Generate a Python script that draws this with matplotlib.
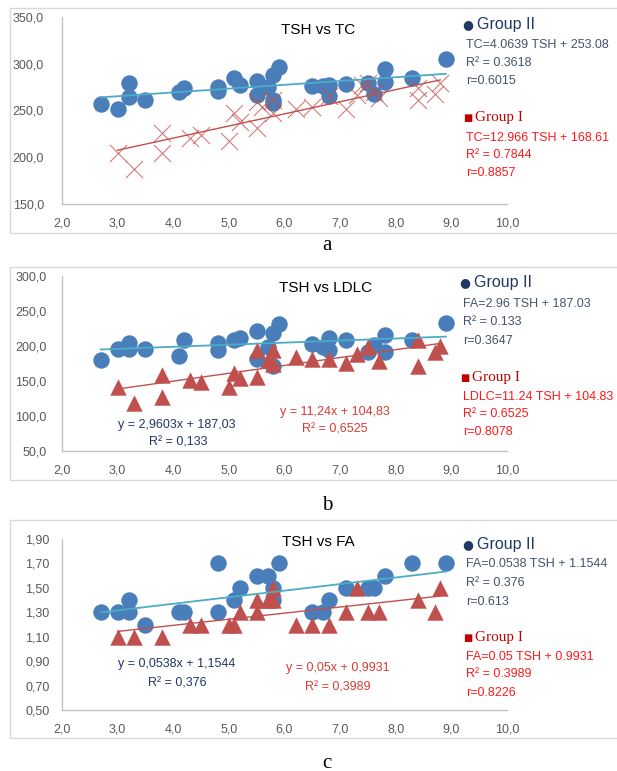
import matplotlib.pyplot as plt
from matplotlib.patches import Rectangle
import numpy as np

# panel a: TSH vs TC
tc_g2_x = [2.7, 3.0, 3.2, 3.2, 3.5, 4.1, 4.2, 4.8, 4.8, 5.1, 5.2, 5.5, 5.5, 5.7, 5.8, 5.8, 5.8, 5.9,
           6.5, 6.7, 6.8, 6.8, 7.1, 7.5, 7.6, 7.8, 7.8, 8.3, 8.9]
tc_g2_y = [257, 252, 279, 264, 261, 270, 274, 275, 271, 285, 277, 282, 267, 275, 258, 261, 288, 297,
           276, 276, 277, 265, 278, 279, 268, 294, 281, 285, 305]
tc_g1_x = [3.0, 3.3, 3.8, 3.8, 4.3, 4.5, 5.0, 5.1, 5.2, 5.5, 5.5, 5.6, 5.8, 5.8, 6.2, 6.5, 6.8,
           7.1, 7.3, 7.4, 7.5, 7.6, 7.7, 8.4, 8.4, 8.7, 8.8]
tc_g1_y = [205, 187, 226, 205, 221, 224, 217, 247, 238, 231, 259, 254, 261, 247, 252, 254, 265,
           252, 267, 277, 279, 270, 263, 274, 261, 268, 279]

# panel b: TSH vs LDLC
ldl_g2_x = [2.7, 3.0, 3.2, 3.2, 3.5, 4.1, 4.2, 4.8, 4.8, 5.1, 5.2, 5.5, 5.5, 5.7, 5.8, 5.8, 5.9,
            6.5, 6.7, 6.8, 6.8, 7.1, 7.5, 7.6, 7.8, 7.8, 8.3, 8.9]
ldl_g2_y = [180, 196, 205, 196, 196, 186, 209, 204, 194, 208, 211, 222, 181, 198, 219, 171, 231,
            203, 198, 211, 194, 209, 191, 201, 216, 191, 208, 233]
ldl_g1_x = [3.0, 3.3, 3.8, 3.8, 4.3, 4.5, 5.0, 5.1, 5.2, 5.5, 5.5, 5.7, 5.8, 5.8, 6.2, 6.5, 6.8,
            7.1, 7.3, 7.5, 7.7, 8.4, 8.4, 8.7, 8.8]
ldl_g1_y = [142, 118, 159, 127, 151, 148, 142, 162, 155, 195, 156, 180, 194, 175, 184, 182, 182,
            176, 189, 198, 178, 208, 171, 191, 200]

# panel c: TSH vs FA
fa_g2_x = [2.7, 3.0, 3.2, 3.2, 3.5, 4.1, 4.2, 4.8, 4.8, 5.1, 5.2, 5.5, 5.7, 5.8, 5.8, 5.9,
           6.5, 6.7, 6.8, 7.1, 7.5, 7.6, 7.8, 8.3, 8.9]
fa_g2_y = [1.3, 1.3, 1.4, 1.3, 1.2, 1.3, 1.3, 1.7, 1.3, 1.4, 1.5, 1.6, 1.6, 1.5, 1.4, 1.7,
           1.3, 1.3, 1.4, 1.5, 1.5, 1.5, 1.6, 1.7, 1.7]
fa_g1_x = [3.0, 3.3, 3.8, 4.3, 4.5, 5.0, 5.1, 5.2, 5.5, 5.5, 5.7, 5.8, 5.8, 6.2, 6.5, 6.8,
           7.1, 7.3, 7.5, 7.7, 8.4, 8.7, 8.8]
fa_g1_y = [1.1, 1.1, 1.1, 1.2, 1.2, 1.2, 1.2, 1.3, 1.4, 1.3, 1.4, 1.5, 1.4, 1.2, 1.2, 1.2,
           1.3, 1.5, 1.3, 1.3, 1.4, 1.3, 1.5]

# trendline coefficients (slope, intercept) as printed on the chart
tc_fit = [(4.0639, 253.08), (12.966, 168.61)]
ldl_fit = [(2.9603, 187.03), (11.24, 104.83)]
fa_fit = [(0.0538, 1.1544), (0.05, 0.9931)]

W, H = 617, 771
BLUE = '#4A7EBB'
RED = '#C0504D'
TEAL = '#4BACC6'
NAVY = '#1F3864'
SLATE = '#44546A'
DARKRED = '#C00000'
BRIGHTRED = '#FF1A1A'
SANS = ['Liberation Sans', 'DejaVu Sans']
SERIF = ['Liberation Serif', 'DejaVu Serif']

fig = plt.figure(figsize=(W / 100, H / 100), dpi=100)


def fx(px):
    return px / W


def fy(py):
    return 1 - py / H


def panel(top, bottom, box, ylim, yticks, yfmt, ypad, g2, g1, fits, g1_marker, title, title_xy):
    ax = fig.add_axes([fx(62), fy(bottom), fx(507) - fx(62), fy(top) - fy(bottom)])
    fig.patches.append(Rectangle((fx(10), fy(box[1])), fx(620) - fx(10), fy(box[0]) - fy(box[1]),
                                 transform=fig.transFigure, fill=False, ec='#D9D9D9', lw=1))
    ax.scatter(g2[0], g2[1], s=140, color=BLUE, zorder=2, linewidths=0)
    if g1_marker == 'x':
        ax.scatter(g1[0], g1[1], s=150, marker='x', color=RED, linewidths=0.8, alpha=0.75, zorder=3)
    else:
        ax.scatter(g1[0], g1[1], s=140, marker='^', color=RED, linewidths=0, zorder=3)
    for (xs, _), (k, b), c, lw in zip([g2, g1], fits, [TEAL, RED], [1.3, 1.0]):
        xx = np.array([min(xs), max(xs)])
        ax.plot(xx, k * xx + b, color=c, lw=lw, zorder=4)
    ax.set_xlim(2, 10)
    ax.set_ylim(*ylim)
    ax.set_xticks(np.arange(2, 11, 1))
    ax.set_xticklabels([f'{v:.1f}'.replace('.', ',') for v in range(2, 11)])
    ax.set_yticks(yticks)
    ax.set_yticklabels([yfmt.format(v).replace('.', ',') for v in yticks])
    for s in ['top', 'right']:
        ax.spines[s].set_visible(False)
    for s in ['left', 'bottom']:
        ax.spines[s].set_color('#BFBFBF')
        ax.spines[s].set_linewidth(0.9)
    ax.tick_params(length=0, labelsize=9, labelcolor='#595959')
    ax.tick_params(axis='x', pad=10)
    ax.tick_params(axis='y', pad=ypad)
    for lab in ax.get_xticklabels() + ax.get_yticklabels():
        lab.set_family(SANS)
    fig.text(fx(title_xy[0]), fy(title_xy[1]), title, ha='center', va='center', fontsize=11,
             color='black', family=SANS)
    return ax


def legend(x, ys, eq2, r2_2, r_2, eq1, r2_1, r_1):
    fig.text(fx(x + 2), fy(ys[0]), '●', ha='center', va='center', fontsize=9, color=NAVY, family=['DejaVu Sans'])
    fig.text(fx(x + 11), fy(ys[0]), 'Group II', ha='left', va='center', fontsize=11.5, color=NAVY, family=SANS)
    for t, yy in zip([eq2, r2_2, r_2], ys[1:4]):
        fig.text(fx(x), fy(yy), t, ha='left', va='center', fontsize=9, color=SLATE, family=SANS)
    fig.text(fx(x + 2), fy(ys[4]), '■', ha='center', va='center', fontsize=7, color=DARKRED, family=['DejaVu Sans'])
    fig.text(fx(x + 9), fy(ys[4]), 'Group I', ha='left', va='center', fontsize=11, color=DARKRED, family=SERIF)
    for t, yy in zip([eq1, r2_1, r_1], ys[5:8]):
        fig.text(fx(x), fy(yy), t, ha='left', va='center', fontsize=9, color=BRIGHTRED, family=SANS)


# a
panel(17, 204, (8, 233), (150, 350), np.arange(150, 351, 50), '{:.1f}', 13,
      (tc_g2_x, tc_g2_y), (tc_g1_x, tc_g1_y), tc_fit, 'x', 'TSH vs TC', (318, 30))
legend(466, [25, 45, 63, 81, 118, 138, 155, 173],
       'TC=4.0639 TSH + 253.08', 'R² = 0.3618', 'r=0.6015',
       'TC=12.966 TSH + 168.61', 'R² = 0.7844', 'r=0.8857')
fig.text(fx(327), fy(245), 'a', ha='center', va='center', fontsize=15, family=SERIF)

# b
panel(276, 451, (267, 480), (50, 300), np.arange(50, 301, 50), '{:.1f}', 11,
      (ldl_g2_x, ldl_g2_y), (ldl_g1_x, ldl_g1_y), ldl_fit, '^', 'TSH vs LDLC', (326, 288))
legend(463, [283, 304, 322, 341, 378, 397, 414, 432],
       'FA=2.96 TSH + 187.03', 'R² = 0.133', 'r=0.3647',
       'LDLC=11.24 TSH + 104.83', 'R² = 0.6525', 'r=0.8078')
fig.text(fx(177), fy(425), 'y = 2,9603x + 187,03', ha='center', va='center', fontsize=9, color=NAVY, family=SANS)
fig.text(fx(178), fy(443), 'R² = 0,133', ha='center', va='center', fontsize=9, color=NAVY, family=SANS)
fig.text(fx(335), fy(412), 'y = 11,24x + 104,83', ha='center', va='center', fontsize=9, color='#D93A32', family=SANS)
fig.text(fx(335), fy(430), 'R² = 0,6525', ha='center', va='center', fontsize=9, color='#D93A32', family=SANS)
fig.text(fx(327), fy(505), 'b', ha='center', va='center', fontsize=15, family=SERIF)

# c
panel(539, 710, (520, 738), (0.5, 1.9), np.round(np.arange(0.5, 1.91, 0.2), 2), '{:.2f}', 9,
      (fa_g2_x, fa_g2_y), (fa_g1_x, fa_g1_y), fa_fit, '^', 'TSH vs FA', (318, 542))
legend(466, [545, 564, 583, 602, 638, 657, 674, 693],
       'FA=0.0538 TSH + 1.1544', 'R² = 0.376', 'r=0.613',
       'FA=0.05 TSH + 0.9931', 'R² = 0.3989', 'r=0.8226')
fig.text(fx(177), fy(664), 'y = 0,0538x + 1,1544', ha='center', va='center', fontsize=9, color=NAVY, family=SANS)
fig.text(fx(177), fy(683), 'R² = 0,376', ha='center', va='center', fontsize=9, color=NAVY, family=SANS)
fig.text(fx(338), fy(668), 'y = 0,05x + 0,9931', ha='center', va='center', fontsize=9, color='#D93A32', family=SANS)
fig.text(fx(338), fy(687), 'R² = 0,3989', ha='center', va='center', fontsize=9, color='#D93A32', family=SANS)
fig.text(fx(327), fy(763), 'c', ha='center', va='center', fontsize=15, family=SERIF)

fig.savefig('out.png', dpi=100)
